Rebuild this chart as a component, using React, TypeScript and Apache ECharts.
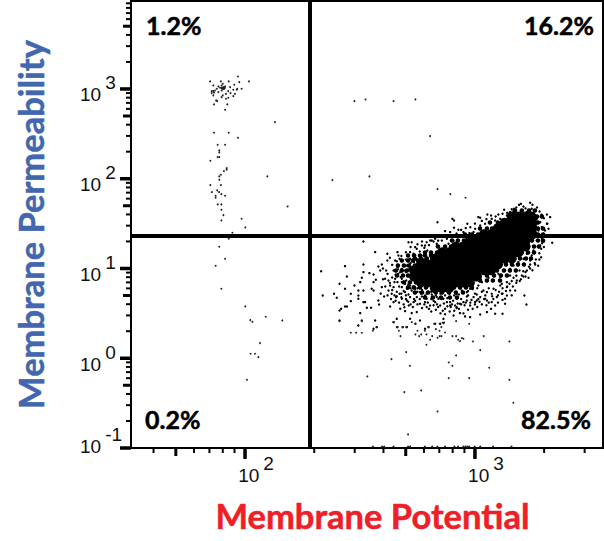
import React, { useEffect, useRef } from "react";
import * as echarts from "echarts";

// All event coordinates are log10(signal).
const leftTop: number[][] = [[1.848,3.084],[1.895,3.084],[1.929,3.084],[1.969,3.139],[1.975,3.076],[2.017,3.084],[1.862,3.039],[1.898,3.039],[1.935,3.021],[1.953,3.047],[1.966,3.002],[1.985,3.002],[1.949,2.991],[1.903,3.013],[1.908,3.002],[1.891,3.013],[1.877,3.002],[1.862,2.976],[1.855,2.954],[1.869,2.983],[1.884,2.965],[1.862,2.928],[1.903,2.928],[1.917,2.946],[1.927,2.976],[1.937,2.954],[1.956,2.946],[1.927,2.902],[1.949,2.920],[1.917,2.891],[1.898,2.909],[1.874,2.872],[1.879,2.865],[1.865,2.828],[1.923,2.828],[1.913,2.768],[1.964,2.991],[1.884,3.028],[1.903,3.058],[1.898,2.983],[1.913,3.028],[1.900,3.006],[1.906,3.020],[1.909,3.006],[1.903,2.999],[1.899,3.012],[1.912,3.012],[1.855,2.976],[1.865,2.960]];
const leftStripe: number[][] = [[2.130,2.631],[1.865,2.512],[1.929,2.512],[1.969,2.456],[1.881,2.378],[1.913,2.378],[1.888,2.315],[1.888,2.293],[1.881,2.241],[1.888,2.241],[1.849,2.200],[1.920,2.118],[1.920,2.100],[1.908,2.085],[1.895,2.044],[1.888,2.026],[2.097,2.026],[1.888,1.988],[1.849,1.929],[1.895,1.929],[1.879,1.870],[1.887,1.851],[1.856,1.851],[1.897,1.829],[1.913,1.810],[1.872,1.810],[1.872,1.788],[1.881,1.714],[1.897,1.714],[1.897,1.654],[1.906,1.595],[1.897,1.535],[1.985,1.554],[2.001,1.457],[1.945,1.398],[2.185,1.691],[1.929,1.331]];
const leftLower: number[][] = [[1.888,1.242],[1.913,1.108],[1.872,1.030],[1.897,0.774],[2.001,0.577],[2.023,0.425],[2.032,0.406],[2.090,0.462],[2.162,0.421],[2.065,0.169],[2.024,0.050],[2.043,0.050],[2.058,0.013],[2.008,-0.240]];
const rightUpper: number[][] = [[2.476,2.865],[2.524,2.883],[2.646,2.865],[2.741,2.883],[2.805,2.475],[2.541,2.026],[2.380,1.985],[2.837,1.884],[2.893,1.829],[2.959,1.788]];
const rightLower: number[][] = [[2.411,0.414],[2.492,0.365],[2.508,0.414],[2.460,0.284],[2.483,0.284],[2.508,0.284],[2.556,0.306],[2.572,0.347],[2.646,0.402],[2.660,0.347],[2.669,0.306],[2.676,0.246],[2.685,0.347],[2.701,0.347],[2.725,0.402],[2.741,0.384],[2.750,0.306],[2.741,0.265],[2.766,0.265],[2.757,0.246],[2.782,0.306],[2.789,0.265],[2.798,0.347],[2.805,0.206],[2.789,0.150],[2.814,0.246],[2.830,0.324],[2.822,0.384],[2.846,0.306],[2.854,0.347],[2.837,0.228],[2.846,0.246],[2.854,0.246],[2.870,0.287],[2.846,0.384],[2.863,0.391],[2.866,0.398],[2.860,0.398],[2.918,0.414],[2.975,0.384],[2.902,0.246],[2.918,0.246],[2.927,0.206],[2.935,0.191],[2.943,0.224],[2.950,0.217],[2.991,0.187],[3.038,0.246],[3.150,0.187],[3.023,0.091],[2.918,0.031],[2.701,0.068],[2.637,-0.010],[2.717,-0.084],[2.886,-0.047],[2.902,-0.084],[3.062,-0.106],[2.532,-0.203],[2.886,-0.221],[2.975,-0.221],[3.150,-0.240],[2.693,-0.377],[2.766,-0.359],[3.167,-0.496],[2.837,-0.593],[2.709,-0.849]];
const floorX: number[] = [2.556,2.596,2.605,2.646,2.709,2.718,2.782,2.814,2.837,2.870,2.911,2.927,2.950,2.959,2.967,2.975,2.999,3.023,3.079,3.159];
const floorLog = -0.985;
const fringeLeft: number[][] = [[2.331,0.970],[2.338,0.699],[2.387,0.718],[2.399,0.673],[2.411,0.829],[2.435,1.026],[2.443,0.911],[2.435,0.774],[2.460,0.718],[2.476,0.811],[2.411,0.532],[2.418,0.551],[2.435,0.577],[2.443,0.577],[2.411,0.421],[2.460,0.636],[2.493,0.755],[2.493,0.699],[2.493,0.662],[2.515,1.045],[2.515,0.959],[2.508,0.896],[2.501,0.848],[2.515,0.755],[2.515,0.625],[2.522,0.625],[2.530,0.562],[2.548,0.562],[2.501,0.503],[2.508,0.421],[2.493,0.365],[2.573,0.347],[2.559,0.328],[2.566,0.421],[2.646,0.402],[2.660,0.439],[2.663,0.347],[2.686,0.347],[2.704,0.347],[2.515,1.301],[2.566,1.182],[2.541,0.948],[2.559,0.933],[2.569,0.874],[2.559,0.848],[2.551,0.774],[2.559,0.755],[2.580,1.022],[2.595,1.045],[2.588,0.978],[2.595,0.792],[2.580,0.644],[2.583,0.599],[2.605,0.688],[2.624,0.755],[2.631,0.577],[2.619,1.164],[2.619,1.089],[2.614,0.978],[2.609,0.885],[2.624,0.866],[2.631,0.811],[2.638,0.718],[2.646,0.625],[2.663,1.182],[2.667,1.145],[2.653,1.089],[2.672,1.108],[2.646,0.978],[2.653,0.885],[2.646,0.792],[2.657,0.681],[2.675,0.551],[2.693,0.569],[2.712,0.588],[2.696,0.525],[2.725,0.503],[2.747,0.514],[2.761,0.421],[2.741,0.384],[2.718,0.439],[2.783,0.328],[2.798,0.347],[2.827,0.384],[2.849,0.384]];
const fringeDense: number[][] = [[2.663,1.015],[2.675,0.959],[2.689,0.922],[2.663,0.848],[2.682,0.792],[2.672,0.718],[2.696,0.737],[2.682,0.662],[2.704,0.644],[2.718,0.681],[2.733,0.625],[2.747,0.681],[2.761,0.607],[2.783,0.625],[2.805,0.588],[2.827,0.625],[2.849,0.588],[2.870,0.551],[2.892,0.625],[2.914,0.588],[2.935,0.607],[2.965,0.644],[2.979,0.588],[3.001,0.625],[3.023,0.681],[3.052,0.644],[3.073,0.625],[3.095,0.681],[3.117,0.718],[3.153,0.755],[3.139,0.699],[3.182,0.866],[3.204,0.922],[3.226,0.978],[3.240,1.089],[3.194,0.978],[3.168,0.896],[3.117,0.829],[3.081,0.774],[3.052,0.737],[3.008,0.711],[2.965,0.688],[2.921,0.662],[2.878,0.625],[2.841,0.662],[2.790,0.662],[2.769,0.688],[2.725,0.755],[2.711,0.711],[2.704,0.774],[2.682,0.848],[2.701,0.866],[2.677,0.904],[2.696,0.978],[2.715,0.996],[2.718,0.922],[2.735,1.071],[2.754,1.089],[2.776,1.145],[2.793,1.201],[2.718,1.182],[2.740,1.238],[2.783,1.256],[2.711,1.293],[2.725,1.293],[2.805,1.312],[2.827,1.331],[2.885,1.275],[2.914,1.267]];
const fringeUpper: number[][] = [[2.837,1.516],[2.902,1.553],[2.909,1.535],[2.870,1.416],[2.892,1.405],[2.909,1.453],[2.928,1.431],[2.967,1.498],[2.994,1.405],[3.015,1.572],[3.023,1.565],[3.054,1.602],[3.073,1.553],[3.102,1.602],[3.127,1.654],[3.168,1.639],[3.192,1.709],[3.211,1.691],[3.240,1.732],[3.257,1.646],[3.281,1.635],[3.313,1.602],[3.327,1.572],[3.313,1.498],[3.320,1.442],[3.305,1.423],[3.336,1.286],[3.292,1.282],[3.288,1.219],[3.288,1.126],[3.262,1.045],[3.240,1.045],[3.233,0.896],[3.211,0.911],[3.215,0.699],[3.224,0.599],[3.175,0.755],[3.139,0.848],[3.153,0.922],[3.110,0.811],[3.120,0.495],[3.088,0.495],[3.052,0.514],[3.023,0.488],[2.979,0.458],[2.957,0.466],[2.935,0.503],[2.892,0.588],[2.921,0.569],[2.950,0.625],[3.008,0.644],[3.044,0.662],[3.073,0.718],[3.131,0.662],[3.131,0.607],[3.088,0.588],[3.139,0.792],[3.110,0.904],[3.037,0.755],[2.994,0.681],[2.907,0.477],[2.863,0.439]];
const fringeEdge: number[][] = [[3.139,1.591],[3.153,1.628],[3.170,1.665],[3.182,1.617],[3.204,1.602],[3.226,1.628],[3.247,1.665],[3.262,1.591],[3.269,1.553],[3.284,1.516],[3.291,1.461],[3.276,1.423],[3.298,1.386],[3.291,1.331],[3.269,1.312],[3.284,1.256],[3.255,1.201],[3.247,1.145],[3.226,1.164],[3.211,1.108],[3.189,1.071],[3.168,1.034],[3.153,0.996],[3.131,0.978],[3.102,0.941],[3.081,0.922],[3.059,0.896],[3.030,0.848],[3.015,0.811],[2.979,0.774],[2.965,0.737],[2.943,0.755],[2.921,0.718],[2.892,0.681],[2.863,0.662],[2.834,0.681],[2.812,0.711],[2.783,0.699],[2.761,0.737],[2.740,0.774],[2.718,0.811],[2.696,0.829],[2.682,0.885],[2.667,0.941],[2.682,0.996],[2.704,1.034],[2.718,1.108],[2.733,1.164],[2.747,1.219],[2.769,1.256],[2.790,1.293],[2.812,1.312],[2.834,1.275],[2.856,1.312],[2.878,1.331],[2.907,1.312],[2.928,1.368],[2.950,1.405],[2.976,1.394],[3.001,1.442],[3.023,1.479],[3.044,1.498],[3.066,1.516],[3.088,1.535],[3.110,1.553]];
const fringeExtra: number[][] = [[2.70,0.70],[2.72,0.78],[2.735,0.66],[2.75,0.74],[2.765,0.72],[2.78,0.68],[2.795,0.62],[2.81,0.66],[2.82,0.59],[2.835,0.60],[2.855,0.66],[2.865,0.61],[2.88,0.67],[2.895,0.57],[2.905,0.64],[2.925,0.61],[2.94,0.66],[2.955,0.59],[2.97,0.70],[2.985,0.65],[3.0,0.72],[3.015,0.66],[3.03,0.74],[3.045,0.70],[3.06,0.78],[3.075,0.69],[3.09,0.76],[3.105,0.74],[3.12,0.78],[3.135,0.75],[3.15,0.83],[3.165,0.80],[3.18,0.92],[3.195,0.86],[3.21,0.97],[3.22,0.91],[3.235,1.02],[3.25,0.98],[3.265,1.1],[3.275,1.03],[3.28,1.17],[3.3,1.3],[3.30,1.24],[3.31,1.36],[3.315,1.5],[3.3,1.56],[3.29,1.6],[3.27,1.68],[3.25,1.71],[3.22,1.67],[3.20,1.72],[3.18,1.68],[3.16,1.66],[3.14,1.62],[3.12,1.61],[3.09,1.58],[3.07,1.59],[3.05,1.55],[3.03,1.53],[3.0,1.50],[2.98,1.46],[2.96,1.45],[2.94,1.43],[2.92,1.39],[2.90,1.37],[2.88,1.35],[2.86,1.36],[2.84,1.31],[2.82,1.30],[2.80,1.26],[2.78,1.23],[2.76,1.19],[2.74,1.15],[2.72,1.06],[2.70,1.10],[2.69,1.03],[2.70,0.96],[2.665,0.99],[2.655,0.93],[2.64,0.90],[2.65,0.85],[2.63,0.84],[2.64,0.76],[2.66,0.74],[2.67,0.80],[2.62,0.70],[2.635,0.66],[2.655,0.64],[2.67,0.62],[2.69,0.60],[2.71,0.63],[2.73,0.57],[2.75,0.60],[2.77,0.56],[2.79,0.57],[2.81,0.52],[2.83,0.54],[2.85,0.50],[2.87,0.49],[2.89,0.52],[2.91,0.53],[2.93,0.55],[2.95,0.50],[2.97,0.54],[2.99,0.55],[3.01,0.57],[3.03,0.60],[3.05,0.59],[3.07,0.55],[3.10,0.62],[3.12,0.65],[3.16,0.70]];
const fringeMore: number[][] = [[2.68,0.72],[2.70,0.66],[2.72,0.60],[2.74,0.64],[2.76,0.66],[2.78,0.60],[2.80,0.55],[2.82,0.64],[2.84,0.57],[2.86,0.53],[2.88,0.58],[2.90,0.60],[2.92,0.56],[2.94,0.60],[2.96,0.62],[2.98,0.62],[3.0,0.60],[3.02,0.63],[3.04,0.66],[3.06,0.62],[3.08,0.66],[3.10,0.70],[3.12,0.72],[3.14,0.80],[3.16,0.86],[3.18,0.84],[3.2,0.88],[3.22,0.96],[3.24,1.0],[3.26,1.06],[3.28,1.1],[2.62,0.94],[2.60,0.88],[2.61,0.80],[2.59,0.72],[2.60,1.0],[2.64,1.04],[2.63,1.12],[2.66,1.08],[2.68,1.14],[2.70,1.18],[2.72,1.24],[2.75,1.27],[2.77,1.30],[2.68,0.68],[2.66,0.69],[2.65,0.70],[2.69,0.75],[2.71,0.82],[2.73,0.80],[2.75,0.78],[2.77,0.76],[2.79,0.72],[2.81,0.74],[2.83,0.70],[2.85,0.72],[2.87,0.70],[2.89,0.72],[2.91,0.70],[2.93,0.71],[2.95,0.73],[2.97,0.75],[2.99,0.77],[3.01,0.78]];

// The saturated centre of the population, one row of log10 values per level.
const coreLevels: number[] = [1.58,1.51,1.45,1.38,1.31,1.245,1.18,1.11,1.045,0.98,0.91,0.845,0.78];
const coreRows: number[][] = [
  [3.16,3.19,3.22,3.245],
  [3.13,3.16,3.19,3.22,3.25],
  [3.10,3.13,3.16,3.19,3.22,3.25],
  [3.039,3.07,3.10,3.13,3.16,3.19,3.22,3.25],
  [2.978,3.009,3.039,3.07,3.10,3.13,3.16,3.19,3.22],
  [2.917,2.948,2.978,3.009,3.039,3.07,3.10,3.13,3.16,3.19,3.22],
  [2.857,2.887,2.917,2.948,2.978,3.009,3.039,3.07,3.10,3.13,3.16,3.19],
  [2.826,2.857,2.887,2.917,2.948,2.978,3.009,3.039,3.07,3.10,3.13,3.16],
  [2.765,2.796,2.826,2.857,2.887,2.917,2.948,2.978,3.009,3.039,3.07,3.10],
  [2.735,2.765,2.796,2.826,2.857,2.887,2.917,2.948,2.978,3.009,3.039,3.07],
  [2.735,2.765,2.796,2.826,2.857,2.887,2.917,2.948,2.978,3.009],
  [2.765,2.796,2.826,2.857,2.887,2.917,2.948,2.978],
  [2.826,2.857,2.887],
];
// The stippled shoulder of the population, where events nearly touch.
const shoulderLevels: number[] = [1.646,1.579,1.512,1.446,1.379,1.312,1.245,1.178,1.111,1.145,1.089,1.033,0.978,0.922,0.866,0.845,0.788,0.733,0.677,1.045];
const shoulderRows: number[][] = [
  [3.174,3.204,3.235,3.261],
  [3.27,3.291],
  [3.065,3.10,3.252,3.274],
  [3.022,3.052,3.074,3.274,3.296],
  [2.957,2.987,3.013,3.274,3.296],
  [2.90,2.926,2.952,3.248,3.274,3.296],
  [2.839,2.87,2.896,3.231,3.257,3.278],
  [2.783,2.809,2.835,3.204,3.231,3.257],
  [2.739,2.765,2.791,3.17,3.196,3.222,3.244],
  [2.709,2.735,2.761,2.783,2.809],
  [2.682,2.709,2.73,2.752,2.778],
  [2.665,2.691,2.713,2.739],
  [2.656,2.682,2.704,3.096,3.126,3.152,3.178],
  [2.661,2.687,2.709,2.73,3.052,3.083,3.113,3.139],
  [3.022,3.052,3.078,3.109],
  [2.691,2.717,2.743],
  [2.709,2.735,2.761,2.787,2.883,2.909,2.935,2.961,2.987],
  [2.739,2.77,2.796,2.83,2.857,2.887,2.917,2.948],
  [2.783,2.817,2.852,2.891,2.922],
  [3.135,3.161,3.187,3.213],
];

const xMinLog = 1.504;
const xMaxLog = 3.557;
const yMinLog = -1;
const yMaxLog = 3.98;
const gateX = 191.7;
const gateY = 23;
const xTickLabels = [100, 1000];
const yTickLabels = [0.1, 1, 10, 100, 1000];
const xTicksMajor = [100, 1000];
const xTicksMid = [50, 500];
const xTicksMinor = [40, 60, 70, 80, 90, 200, 300, 400, 600, 700, 800, 900, 2000, 3000];
const yTicksMajor = [0.1, 1, 10, 100, 1000];
const yTicksMid = [0.5, 5, 50, 500, 5000];
const yTicksMinor = [0.2, 0.3, 0.4, 0.6, 0.7, 0.8, 0.9, 2, 3, 4, 6, 7, 8, 9, 20, 30, 40, 60, 70, 80, 90, 200, 300, 400, 600, 700, 800, 900, 2000, 3000, 4000, 6000, 7000, 8000, 9000];
const quadrantLabels = ["1.2%", "16.2%", "0.2%", "82.5%"];

const toValue = (p: number[]) => [10 ** p[0], 10 ** p[1]];

export default function App() {
  const ref = useRef<HTMLDivElement>(null);
  useEffect(() => {
    document.body.style.margin = "0";
    const chart = echarts.init(ref.current!, undefined, { renderer: "svg" });
    const xMin = 10 ** xMinLog, xMax = 10 ** xMaxLog, yMin = 10 ** yMinLog, yMax = 10 ** yMaxLog;
    const sparse = [...leftTop, ...leftStripe, ...leftLower, ...rightUpper, ...rightLower, ...floorX.map((x) => [x, floorLog])].map(toValue);
    const fringe = [...fringeLeft, ...fringeDense, ...fringeUpper, ...fringeEdge, ...fringeExtra, ...fringeMore].map(toValue);
    const fromRows = (rows: number[][], levels: number[]) => rows.flatMap((row, i) => row.map((x) => toValue([x, levels[i]])));
    const core = fromRows(coreRows, coreLevels);
    const shoulder = fromRows(shoulderRows, shoulderLevels);
    const tickRows = (vals: number[], level: number, axis: string) =>
      vals.map((v) => (axis === "x" ? [v, yMin, level] : [xMin, v, level]));
    const lens = [4, 7, 10];
    const widths = [2, 3, 3.5];
    const tickSeries = (axis: string, rows: number[][]) => ({
      type: "custom",
      silent: true,
      z: 6,
      data: rows,
      encode: { x: 0, y: 1 },
      renderItem: (_p: any, api: any) => {
        const c = api.coord([api.value(0), api.value(1)]);
        const lv = api.value(2);
        return {
          type: "line",
          shape: axis === "x"
            ? { x1: c[0], y1: c[1], x2: c[0], y2: c[1] + lens[lv] + 1 }
            : { x1: c[0], y1: c[1], x2: c[0] - lens[lv] - 1, y2: c[1] },
          style: { stroke: "#000", lineWidth: widths[lv] },
        };
      },
    });
    const fmt = (v: number) => {
      const e = Math.round(Math.log10(v));
      return e < 0 ? `{a1|10}{b1|${e}}` : `{a|10}{b|${e}}`;
    };
    const labelFont = { fontSize: 19, fontFamily: "Liberation Sans", color: "#111" };
    const rich = {
      a: { ...labelFont, lineHeight: 14, padding: [12, 0, 0, 0] },
      b: { ...labelFont, lineHeight: 14, padding: [0, 0, 12, 4] },
      a1: { ...labelFont, lineHeight: 14, padding: [12, 0, 16, 0] },
      b1: { ...labelFont, lineHeight: 14, padding: [0, 0, 28, 4] },
    };
    const pct = (text: string, x: number, y: number, align: string) => ({
      type: "text", x, y, z: 20,
      style: { text, fontFamily: "Lato", fontWeight: "bold", fontSize: 25, fill: "#000", stroke: "#000", lineWidth: 0.5, align, verticalAlign: "middle" },
    });
    chart.setOption({
      animation: false,
      backgroundColor: "#fff",
      grid: { left: 131, top: 1, width: 472, height: 447, show: true, borderColor: "#000", borderWidth: 2 },
      xAxis: {
        type: "log", min: xMin, max: xMax, logBase: 10,
        name: "Membrane Potential", nameLocation: "middle", nameGap: 50,
        nameTextStyle: { fontFamily: "Lato", fontWeight: "bold", fontSize: 34.5, color: "#ED2027", textBorderColor: "#ED2027", textBorderWidth: 0.5, padding: [0, 0, 0, 11] },
        axisLine: { show: true, lineStyle: { color: "#000", width: 2 } },
        axisTick: { show: false }, splitLine: { show: false }, minorTick: { show: false },
        axisLabel: { ...labelFont, customValues: xTickLabels, formatter: fmt, rich, margin: 14, padding: [0, 0, 0, 22], hideOverlap: false, showMinLabel: true, showMaxLabel: true },
      },
      yAxis: {
        type: "log", min: yMin, max: yMax, logBase: 10,
        name: "Membrane Permeability", nameLocation: "middle", nameGap: 83,
        nameTextStyle: { fontFamily: "Lato", fontWeight: "bold", fontSize: 34.5, color: "#4367AE", textBorderColor: "#4367AE", textBorderWidth: 0.5 },
        axisLine: { show: true, lineStyle: { color: "#000", width: 2 } },
        axisTick: { show: false }, splitLine: { show: false }, minorTick: { show: false },
        axisLabel: { ...labelFont, customValues: yTickLabels, formatter: fmt, rich, margin: 51, align: "left", hideOverlap: false, showMinLabel: true, showMaxLabel: true },
      },
      series: [
        { type: "scatter", name: "Core", data: core, symbol: "circle", symbolSize: 10, itemStyle: { color: "#000", opacity: 1 }, silent: true, z: 2 },
        { type: "scatter", name: "Shoulder", data: shoulder, symbol: "circle", symbolSize: 4.5, itemStyle: { color: "#000", opacity: 1 }, silent: true, z: 2 },
        { type: "scatter", name: "Fringe", data: fringe, symbol: "circle", symbolSize: 2.4, itemStyle: { color: "#000", opacity: 1 }, silent: true, z: 3 },
        { type: "scatter", name: "Events", data: sparse, symbol: "circle", symbolSize: 1.9, itemStyle: { color: "#222", opacity: 1 }, silent: true, z: 3,
          markLine: {
            silent: true, symbol: "none", animation: false, label: { show: false }, z: 5,
            lineStyle: { color: "#000", width: 4, type: "solid" },
            data: [{ xAxis: gateX }, { yAxis: gateY }],
          } },
        tickSeries("x", [...tickRows(xTicksMinor, 0, "x"), ...tickRows(xTicksMid, 1, "x"), ...tickRows(xTicksMajor, 2, "x")]),
        tickSeries("y", [...tickRows(yTicksMinor, 0, "y"), ...tickRows(yTicksMid, 1, "y"), ...tickRows(yTicksMajor, 2, "y")]),
      ],
      graphic: [
        pct(quadrantLabels[0], 146, 25, "left"),
        pct(quadrantLabels[1], 594, 25, "right"),
        pct(quadrantLabels[2], 145, 419, "left"),
        pct(quadrantLabels[3], 591, 419, "right"),
      ],
    });
    return () => chart.dispose();
  }, []);
  return <div ref={ref} style={{ width: 604, height: 541 }} />;
}
